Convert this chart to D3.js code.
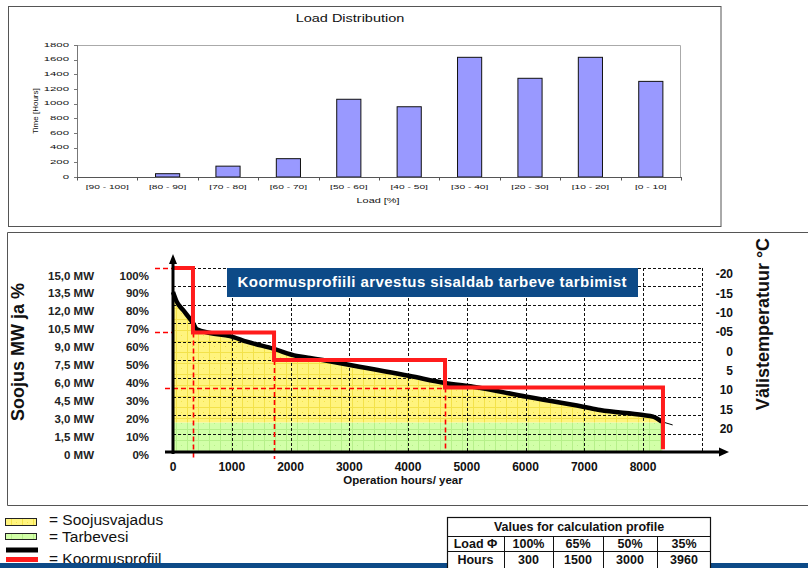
<!DOCTYPE html>
<html><head><meta charset="utf-8">
<script src="https://cdn.jsdelivr.net/npm/d3@7"></script>
<style>
body{margin:0;background:#fff;}
svg{display:block;font-family:"Liberation Sans",Arial,Helvetica,sans-serif;}
</style>
</head><body>
<svg id="c" width="808" height="568"></svg>
<script>
// ---------- data ----------
const loadCategories = ["[90 - 100]","[80 - 90]","[70 - 80]","[60 - 70]","[50 - 60]","[40 - 50]","[30 - 40]","[20 - 30]","[10 - 20]","[0 - 10]"];
const loadHours = [0, 45, 148, 250, 1060, 958, 1632, 1346, 1632, 1304];
const loadTicks = [0, 200, 400, 600, 800, 1000, 1200, 1400, 1600, 1800];

const durationHours = [0, 63, 170, 340, 403, 630, 970, 1254, 1719, 2106, 2332, 3013, 4034, 4630, 5106, 6020, 6979, 7268, 8000, 8170, 8318];
const durationLoad  = [87, 81.7, 77.2, 70.1, 66.8, 64.7, 63, 60, 56, 52.2, 51.1, 47.3, 41.3, 37.5, 35.5, 30, 24.6, 22.8, 20.1, 19.2, 16.5];
const tailHours = [8318, 8505];
const tailLoad  = [16.5, 14.7];
const hotWaterLoad = 16;
const fillEndHours = 8330;

const stepBounds = [0, 340, 1720, 4630, 8340];
const stepLoads  = [100, 65, 50, 35];
const stepEndLoad = 1.5;

const xTicks = [0, 1000, 2000, 3000, 4000, 5000, 6000, 7000, 8000];
const gridHours = [1000, 2000, 3000, 4000, 5000, 6000, 7000, 8000, 9000];
const gridPct = [10, 20, 30, 40, 50, 60, 70, 80, 90, 100];
const pctValues = [0, 10, 20, 30, 40, 50, 60, 70, 80, 90, 100];
const mwLabels = ["0 MW","1,5 MW","3,0 MW","4,5 MW","6,0 MW","7,5 MW","9,0 MW","10,5 MW","12,0 MW","13,5 MW","15,0 MW"];
const pctLabels = ["0%","10%","20%","30%","40%","50%","60%","70%","80%","90%","100%"];
const tempLabels = ["-20","-15","-10","-05","0","5","10","15","20"];

const tableTitle = "Values for calculation profile";
const tableLoadRow = ["Load \u03A6","100%","65%","50%","35%"];
const tableHoursRow = ["Hours","300","1500","3000","3960"];
const legendLabels = ["= Soojusvajadus","= Tarbevesi","= Koormusprofiil"];

// ---------- drawing ----------
const svg = d3.select("#c");
const defs = svg.append("defs");
function pattern(id, base, line){
  const p = defs.append("pattern").attr("id",id).attr("patternUnits","userSpaceOnUse")
    .attr("width",11).attr("height",11);
  p.append("rect").attr("width",11).attr("height",11).attr("fill",base);
  p.append("rect").attr("x",0).attr("y",0).attr("width",11).attr("height",1).attr("fill",line);
  p.append("rect").attr("x",0).attr("y",0).attr("width",1).attr("height",11).attr("fill",line);
  p.append("rect").attr("x",5).attr("y",5).attr("width",1).attr("height",1).attr("fill",line);
}
pattern("yel","#fff47e","#f3e24a");
pattern("grn","#d2ffa8","#b6f08a");

// ===== top chart =====
svg.append("rect").attr("x",8.5).attr("y",6.5).attr("width",712.5).attr("height",220)
  .attr("fill","#fff").attr("stroke","#555").attr("stroke-width",1);

const tx = d3.scaleBand().domain(loadCategories).range([77,681]).paddingInner(0.6).paddingOuter(0.3);
const ty = d3.scaleLinear().domain([0,1800]).range([177,45]);

function sText(g, x, y, txt, size, sx, anchor){
  return g.append("text").attr("transform",`translate(${x},${y}) scale(${sx},1)`)
    .attr("text-anchor",anchor).attr("dominant-baseline","middle")
    .attr("font-size",size).attr("fill","#111").text(txt);
}
const topG = svg.append("g");
topG.append("path").attr("d",`M77,45.5H680.5V177`).attr("fill","none").attr("stroke","#aaa");
topG.append("line").attr("x1",77.5).attr("x2",77.5).attr("y1",45).attr("y2",177).attr("stroke","#777");
loadTicks.forEach(v=>{
  topG.append("line").attr("x1",74).attr("x2",77.5).attr("y1",Math.round(ty(v))+0.5).attr("y2",Math.round(ty(v))+0.5).attr("stroke","#777");
  sText(topG, 69, ty(v), String(v), 6, 1.9, "end");
});
topG.selectAll("rect.bar").data(loadCategories).join("rect").attr("class","bar")
  .attr("x",d=>tx(d)).attr("width",tx.bandwidth())
  .attr("y",(d,i)=>ty(loadHours[i])).attr("height",(d,i)=>ty(0)-ty(loadHours[i]))
  .attr("fill","#9999ff").attr("stroke","#111").attr("stroke-width",1);
topG.append("line").attr("x1",77).attr("x2",681).attr("y1",177.5).attr("y2",177.5).attr("stroke","#555");
const stepW = tx.step();
for(let i=0;i<=loadCategories.length;i++){
  const xx = Math.round(77 + i*stepW)+0.5;
  topG.append("line").attr("x1",xx).attr("x2",xx).attr("y1",177).attr("y2",180.5).attr("stroke","#555");
}
loadCategories.forEach(c=>{
  sText(topG, tx(c)+tx.bandwidth()/2, 187, c, 6, 1.7, "middle");
});
sText(topG, 350, 19, "Load Distribution", 10, 1.45, "middle");
sText(topG, 378, 201, "Load [%]", 8, 1.36, "middle");
topG.append("text").attr("transform","translate(36,111) rotate(-90)")
  .attr("text-anchor","middle").attr("dominant-baseline","middle")
  .attr("font-size",8).attr("fill","#111").text("Time [Hours]");

// ===== bottom chart =====
svg.append("path").attr("d","M812,232.5H7.5V505.5H812").attr("fill","none").attr("stroke","#555");

const hx = d3.scaleLinear().domain([0,9000]).range([173,701.75]);
const py = d3.scaleLinear().domain([0,100]).range([452,268]);
const labelY = d3.scaleLinear().domain([0,100]).range([456,276.5]);
const tempY = d3.scalePoint().domain(tempLabels).range([275,430]);

const bot = svg.append("g");
bot.append("path").datum([0, fillEndHours])
  .attr("d", d3.area().x(d=>hx(d)).y0(py(0)).y1(py(hotWaterLoad)))
  .attr("fill","url(#grn)");
const dur = durationHours.map((h,i)=>({h, v:durationLoad[i]}));
const yelData = dur.concat([{h:fillEndHours, v:hotWaterLoad}]);
bot.append("path").datum(yelData)
  .attr("d", d3.area().x(d=>hx(d.h)).y0(py(hotWaterLoad)).y1(d=>py(d.v)))
  .attr("fill","url(#yel)");

gridPct.forEach(p=>{
  bot.append("line").attr("x1",hx(0)).attr("x2",hx(9000)).attr("y1",Math.round(py(p))+0.5).attr("y2",Math.round(py(p))+0.5)
    .attr("stroke","#111").attr("stroke-dasharray","3,2").attr("stroke-width",1);
});
gridHours.forEach(h=>{
  bot.append("line").attr("x1",Math.round(hx(h))+0.5).attr("x2",Math.round(hx(h))+0.5).attr("y1",py(100)).attr("y2",py(0))
    .attr("stroke","#111").attr("stroke-dasharray","3,2").attr("stroke-width",1);
});

bot.append("path").datum(dur)
  .attr("d", d3.line().x(d=>hx(d.h)).y(d=>py(d.v)).curve(d3.curveMonotoneX))
  .attr("fill","none").attr("stroke","#000").attr("stroke-width",4.5).attr("stroke-linejoin","round");
bot.append("path").datum(tailHours.map((h,i)=>({h, v:tailLoad[i]})))
  .attr("d", d3.line().x(d=>hx(d.h)).y(d=>py(d.v)))
  .attr("fill","none").attr("stroke","#000").attr("stroke-width",1);

// red dashed guide lines (drawn as paths above the fills)
const rdPath = (pts)=> bot.append("path").attr("d", d3.line()(pts))
  .attr("fill","none").attr("stroke","#ff0000").attr("stroke-width",1.6).attr("stroke-dasharray","5,3");
const yA = Math.round(py(stepLoads[0]))+0.5, yB = Math.round(py(stepLoads[1]))+0.5, yD = Math.round(py(stepLoads[3]))+0.5;
rdPath([[155,yA],[hx(0),yA]]);
rdPath([[155,yB],[hx(0),yB]]);
rdPath([[165,yD],[hx(stepBounds[3]),yD]]);
[1,2,3].forEach(i=>{
  const xx = Math.round(hx(stepBounds[i]))+0.5;
  rdPath([[xx,py(stepLoads[i])],[xx, i<3 ? 459 : py(0)]]);
});

const stepPts = [];
stepLoads.forEach((v,i)=>{ stepPts.push({h:stepBounds[i], v}); stepPts.push({h:stepBounds[i+1], v}); });
stepPts.push({h:stepBounds[stepBounds.length-1], v:stepEndLoad});
bot.append("path").datum(stepPts)
  .attr("d", d3.line().x(d=>hx(d.h)).y(d=>py(d.v)))
  .attr("fill","none").attr("stroke","#ff1c1c").attr("stroke-width",4).attr("stroke-linejoin","miter");

bot.append("line").attr("x1",hx(0)).attr("x2",hx(0)).attr("y1",454).attr("y2",262).attr("stroke","#000").attr("stroke-width",3);
bot.append("path").attr("d",`M${hx(0)},254L${hx(0)-4},264L${hx(0)+4},264Z`).attr("fill","#000");
bot.append("line").attr("x1",165).attr("x2",720).attr("y1",452).attr("y2",452).attr("stroke","#000").attr("stroke-width",3);
bot.append("path").attr("d",`M729,452L719,447.5L719,456.5Z`).attr("fill","#000");

xTicks.forEach(h=>{
  bot.append("text").attr("x",hx(h)).attr("y",468).attr("text-anchor","middle").attr("dominant-baseline","middle")
    .attr("font-size",12).attr("font-weight","bold").attr("fill","#111").text(h);
});
bot.append("text").attr("x",403).attr("y",481).attr("text-anchor","middle").attr("dominant-baseline","middle")
  .attr("font-size",11.5).attr("font-weight","bold").attr("fill","#111").text("Operation hours/ year");

pctValues.forEach((p,i)=>{
  bot.append("text").attr("x",94).attr("y",labelY(p)).attr("text-anchor","end").attr("dominant-baseline","middle")
    .attr("font-size",11.5).attr("font-weight","bold").attr("fill","#222").text(mwLabels[i]);
  bot.append("text").attr("x",149).attr("y",labelY(p)).attr("text-anchor","end").attr("dominant-baseline","middle")
    .attr("font-size",11.5).attr("font-weight","bold").attr("fill","#222").text(pctLabels[i]);
});
bot.append("text").attr("transform","translate(19,352) rotate(-90)").attr("text-anchor","middle").attr("dominant-baseline","middle")
  .attr("font-size",18).attr("font-weight","bold").attr("fill","#111").text("Soojus MW ja %");

tempLabels.forEach(t=>{
  bot.append("text").attr("x",733).attr("y",tempY(t)).attr("text-anchor","end").attr("dominant-baseline","middle")
    .attr("font-size",12).attr("font-weight","bold").attr("fill","#111").text(t);
});
bot.append("text").attr("transform","translate(764,324) rotate(-90)").attr("text-anchor","middle").attr("dominant-baseline","middle")
  .attr("font-size",18).attr("font-weight","bold").attr("fill","#111").text("Välistemperatuur °C");

bot.append("rect").attr("x",227).attr("y",268).attr("width",411).attr("height",29).attr("fill","#0d4a87");
bot.append("text").attr("x",432).attr("y",283).attr("text-anchor","middle").attr("dominant-baseline","middle")
  .attr("font-size",15).attr("font-weight","bold").attr("fill","#fff")
  .attr("textLength",389).attr("lengthAdjust","spacing")
  .text("Koormusprofiili arvestus sisaldab tarbeve tarbimist");

// ===== legend =====
const leg = svg.append("g");
leg.append("rect").attr("x",5.5).attr("y",518.5).attr("width",31).attr("height",7).attr("fill","url(#yel)").attr("stroke","#222").attr("stroke-width",1);
leg.append("rect").attr("x",5.5).attr("y",533.5).attr("width",31).attr("height",6).attr("fill","url(#grn)").attr("stroke","#222").attr("stroke-width",1);
leg.append("rect").attr("x",6).attr("y",547.5).attr("width",32).attr("height",5).attr("fill","#000");
leg.append("rect").attr("x",6).attr("y",557).attr("width",32).attr("height",5).attr("fill","#ff1c1c");
const legY = [525, 542, 564];
legendLabels.forEach((t,i)=>{
  leg.append("text").attr("x",49).attr("y",legY[i]).attr("font-size",15.5).attr("fill","#111").text(t);
});

svg.append("rect").attr("x",0).attr("y",563).attr("width",808).attr("height",5).attr("fill","#0d4a87");

// ===== table =====
const tab = svg.append("g");
const colX = [447, 504, 553, 603, 657, 711];
const rowY = [517, 536, 551, 568];
tab.append("rect").attr("x",colX[0]).attr("y",rowY[0]).attr("width",colX[5]-colX[0]).attr("height",rowY[3]-rowY[0]).attr("fill","#fff");
tab.append("rect").attr("x",colX[0]+0.5).attr("y",rowY[0]+0.5).attr("width",colX[5]-colX[0]-1).attr("height",rowY[3]-rowY[0]+2)
  .attr("fill","none").attr("stroke","#111").attr("stroke-width",1.2);
[rowY[1], rowY[2]].forEach(y=>tab.append("line").attr("x1",colX[0]).attr("x2",colX[5]).attr("y1",y+0.5).attr("y2",y+0.5).attr("stroke","#111"));
colX.slice(1,5).forEach(x=>tab.append("line").attr("x1",x+0.5).attr("x2",x+0.5).attr("y1",rowY[1]).attr("y2",rowY[3]).attr("stroke","#111"));
tab.append("text").attr("x",(colX[0]+colX[5])/2).attr("y",(rowY[0]+rowY[1])/2+1).attr("text-anchor","middle").attr("dominant-baseline","middle")
  .attr("font-size",12.5).attr("font-weight","bold").attr("fill","#111").text(tableTitle);
[tableLoadRow, tableHoursRow].forEach((row,r)=>{
  row.forEach((t,c)=>{
    tab.append("text").attr("x",(colX[c]+colX[c+1])/2).attr("y",(rowY[r+1]+rowY[r+2])/2+1)
      .attr("text-anchor","middle").attr("dominant-baseline","middle")
      .attr("font-size",12.5).attr("font-weight","bold").attr("fill","#111").text(t);
  });
});
</script>
</body></html>
